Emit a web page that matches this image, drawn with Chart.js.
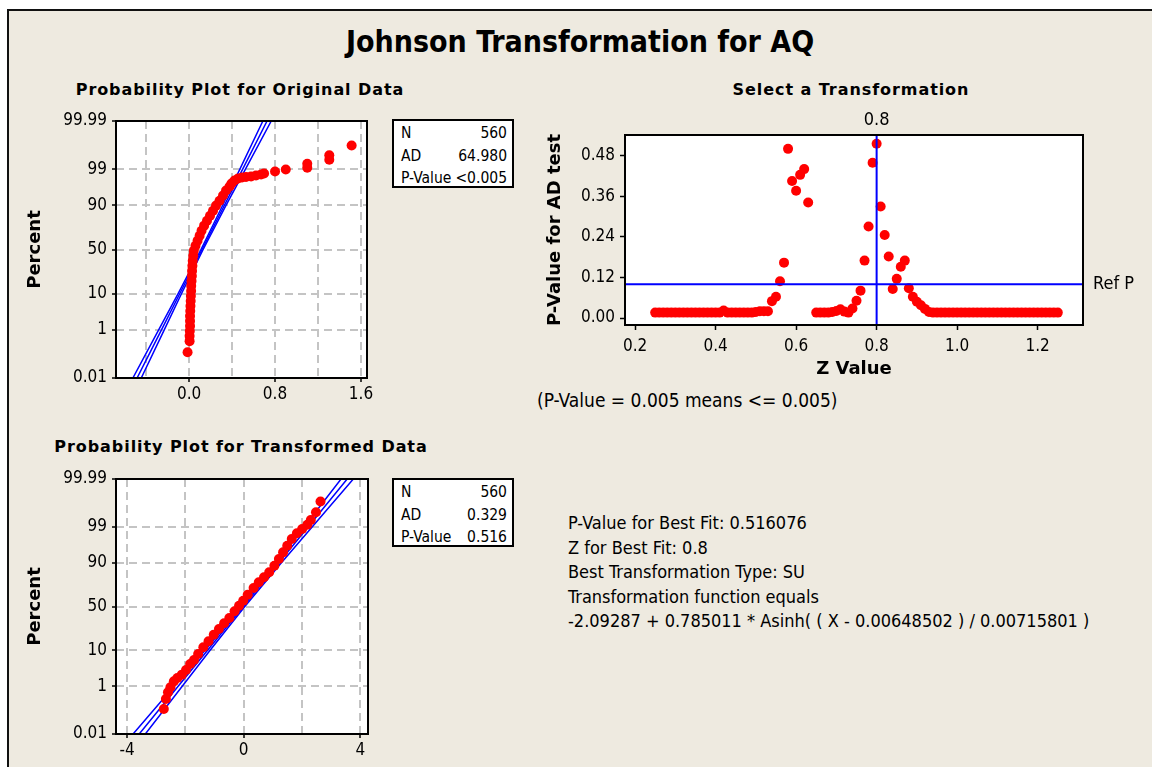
<!DOCTYPE html>
<html lang="en">
<head>
<meta charset="UTF-8">
<title>Johnson Transformation for AQ</title>
<style>
  html, body { margin: 0; padding: 0; background: #fff; }
  body { width: 1152px; height: 767px; position: relative; overflow: hidden; font-family: "DejaVu Sans", sans-serif; }
  #panel { position: absolute; left: 7px; top: 9px; width: 1160px; height: 770px; background: #EEEAE0;
           border-left: 2px solid #111; border-top: 2px solid #111; }
  .txt { position: absolute; white-space: nowrap; color: #000; }
  .title { left: 80px; top: 24px; width: 1000px; text-align: center; line-height: 40px;
           font: bold 30px "DejaVu Sans Condensed", "DejaVu Sans", sans-serif; }
  .sub { width: 440px; text-align: center; line-height: 20px; font: bold 16px "DejaVu Sans", sans-serif; letter-spacing: 0.93px; }
  .plain { font: 19px "DejaVu Sans Condensed", "DejaVu Sans", sans-serif; line-height: 22px; }
  .block { left: 568px; top: 511px; font: 18px "DejaVu Sans Condensed", "DejaVu Sans", sans-serif; line-height: 24.5px; }
  canvas { position: absolute; }
  .stats { position: absolute; left: 392px; width: 122px; height: 69px; box-sizing: border-box;
           border: 2px solid #000; background: #fff; padding: 1px 5px 0 7px;
           font: 15.5px "DejaVu Sans Condensed", "DejaVu Sans", sans-serif; line-height: 22.5px; }
  .stats div { display: flex; justify-content: space-between; }
</style>
</head>
<body>
<div id="panel"></div>

<div class="txt title">Johnson Transformation for AQ</div>
<div class="txt sub" style="left:20px; top:80px;">Probability Plot for Original Data</div>
<div class="txt sub" style="left:631px; top:80px;">Select a Transformation</div>
<div class="txt sub" style="left:21px; top:437px;">Probability Plot for Transformed Data</div>

<canvas id="origChart" width="360" height="312" style="left:20px; top:100px;"></canvas>
<canvas id="selectChart" width="610" height="280" style="left:540px; top:105px;"></canvas>
<canvas id="transChart" width="360" height="309" style="left:20px; top:458px;"></canvas>

<div class="stats" style="top:119px;">
  <div><span>N</span><span>560</span></div>
  <div><span>AD</span><span>64.980</span></div>
  <div><span>P-Value</span><span>&lt;0.005</span></div>
</div>
<div class="stats" style="top:478px;">
  <div><span>N</span><span>560</span></div>
  <div><span>AD</span><span>0.329</span></div>
  <div><span>P-Value</span><span>0.516</span></div>
</div>

<div class="txt plain" style="left:537px; top:389px;">(P-Value = 0.005 means &lt;= 0.005)</div>
<div class="txt block">
  P-Value for Best Fit: 0.516076<br>
  Z for Best Fit: 0.8<br>
  Best Transformation Type: SU<br>
  Transformation function equals<br>
  -2.09287 + 0.785011 * Asinh( ( X - 0.00648502 ) / 0.00715801 )
</div>

<script src="https://cdn.jsdelivr.net/npm/chart.js"></script>
<script>
// probability plot, original data (x value, plotted percent)
const origX = [-0.014, 0.005, 0.005, 0.007, 0.009, 0.009, 0.009, 0.011, 0.013, 0.015,
               0.017, 0.019, 0.020, 0.023, 0.026, 0.028, 0.031, 0.034, 0.039, 0.044,
               0.060, 0.079, 0.098, 0.116, 0.140, 0.167, 0.195, 0.223, 0.251, 0.284,
               0.316, 0.344, 0.377, 0.395, 0.423, 0.456, 0.493, 0.530, 0.577, 0.623,
               0.670, 0.698, 0.80, 0.90, 1.10, 1.10, 1.305, 1.305, 1.513];
const origPct = [0.148, 0.40, 0.61, 0.91, 1.33, 1.91, 2.70, 3.75, 5.09, 6.80,
                 8.92, 11.5, 14.6, 18.1, 22.2, 26.8, 31.8, 37.1, 42.7, 48.5,
                 54.3, 60.0, 65.5, 70.6, 75.5, 79.8, 83.6, 86.9, 89.8, 92.1,
                 94.1, 95.6, 96.6, 97.2, 97.7, 98.0, 98.14, 98.20, 98.27, 98.39,
                 98.50, 98.61, 98.80, 98.97, 99.10, 99.35, 99.53, 99.68, 99.87];

// fitted line and confidence band, read at these percents
const fitPct = [0.01, 1, 10, 50, 90, 99, 99.99];
const origFitX   = [-0.484, -0.257, -0.087, 0.121, 0.329, 0.499, 0.726];
const origLowerX = [-0.523, -0.283, -0.103, 0.111, 0.313, 0.473, 0.687];
const origUpperX = [-0.445, -0.231, -0.071, 0.131, 0.345, 0.525, 0.765];

const probTickPct = [0.01, 1, 10, 50, 90, 99, 99.99];
const probTickLabels = ['0.01', '1', '10', '50', '90', '99', '99.99'];
const origXTicks = [-0.4, 0, 0.4, 0.8, 1.2, 1.6];
const origXLabels = ['', '0.0', '', '0.8', '', '1.6'];

// select a transformation: AD p-value for each Z
const zValues = [0.25, 0.26, 0.27, 0.28, 0.29, 0.30, 0.31, 0.32, 0.33, 0.34,
                 0.35, 0.36, 0.37, 0.38, 0.39, 0.40, 0.41, 0.42, 0.43, 0.44,
                 0.45, 0.46, 0.47, 0.48, 0.49, 0.50, 0.51, 0.52, 0.53, 0.54,
                 0.55, 0.56, 0.57, 0.58, 0.59, 0.60, 0.61, 0.62, 0.63, 0.64,
                 0.65, 0.66, 0.67, 0.68, 0.69, 0.70, 0.71, 0.72, 0.73, 0.74,
                 0.75, 0.76, 0.77, 0.78, 0.79, 0.80, 0.81, 0.82, 0.83, 0.84,
                 0.85, 0.86, 0.87, 0.88, 0.89, 0.90, 0.91, 0.92, 0.93, 0.94,
                 0.95, 0.96, 0.97, 0.98, 0.99, 1.00, 1.01, 1.02, 1.03, 1.04,
                 1.05, 1.06, 1.07, 1.08, 1.09, 1.10, 1.11, 1.12, 1.13, 1.14,
                 1.15, 1.16, 1.17, 1.18, 1.19, 1.20, 1.21, 1.22, 1.23, 1.24,
                 1.25];
const adPValues = [0.016, 0.016, 0.016, 0.016, 0.016, 0.016, 0.016, 0.016, 0.016, 0.016,
                   0.016, 0.016, 0.016, 0.016, 0.016, 0.016, 0.016, 0.022, 0.016, 0.016,
                   0.016, 0.016, 0.016, 0.016, 0.016, 0.018, 0.020, 0.020, 0.020, 0.050,
                   0.063, 0.109, 0.164, 0.501, 0.406, 0.377, 0.424, 0.441, 0.342, null,
                   0.016, 0.016, 0.016, 0.016, 0.018, 0.021, 0.026, 0.019, 0.016, 0.028,
                   0.051, 0.081, 0.170, 0.271, 0.460, 0.516, 0.330, 0.246, 0.182, 0.086,
                   0.116, 0.152, 0.170, 0.088, 0.063, 0.048, 0.038, 0.027, 0.018, 0.016,
                   0.016, 0.016, 0.016, 0.016, 0.016, 0.016, 0.016, 0.016, 0.016, 0.016,
                   0.016, 0.016, 0.016, 0.016, 0.016, 0.016, 0.016, 0.016, 0.016, 0.016,
                   0.016, 0.016, 0.016, 0.016, 0.016, 0.016, 0.016, 0.016, 0.016, 0.016,
                   0.016];
const bestZ = 0.8;
const refP = 0.1;
const selYTicks = [0, 0.12, 0.24, 0.36, 0.48];
const selYLabels = ['0.00', '0.12', '0.24', '0.36', '0.48'];
const selXTicks = [0.2, 0.4, 0.6, 0.8, 1.0, 1.2];
const selXLabels = ['0.2', '0.4', '0.6', '0.8', '1.0', '1.2'];

// probability plot, transformed data
const transX = [-2.740, -2.668, -2.597, -2.514, -2.395, -2.276, -2.121, -1.979, -1.836, -1.705,
                -1.562, -1.384, -1.206, -1.027, -0.849, -0.671, -0.492, -0.314, -0.159, -0.017,
                0.138, 0.340, 0.518, 0.697, 0.875, 1.053, 1.208, 1.351, 1.493, 1.648,
                1.826, 2.005, 2.183, 2.302, 2.480, 2.635];
const transPct = [0.139, 0.349, 0.614, 0.919, 1.45, 1.85, 2.34, 3.20, 4.68, 5.93,
                  8.29, 11.68, 15.48, 20.56, 25.59, 31.17, 36.87, 44.39, 50.97, 56.76,
                  63.50, 70.53, 75.97, 80.26, 84.06, 88.32, 91.71, 94.29, 96.20, 97.55,
                  98.36, 98.81, 99.15, 99.42, 99.70, 99.89];
const transFitX   = [-3.584, -2.248, -1.246, -0.017, 1.212, 2.214, 3.550];
const transLowerX = [-3.794, -2.388, -1.334, -0.073, 1.125, 2.074, 3.340];
const transUpperX = [-3.374, -2.108, -1.159, 0.039, 1.300, 2.354, 3.760];
const transXTicks = [-4, -2, 0, 2, 4];
const transXLabels = ['-4', '', '0', '', '4'];

// inverse normal cdf (Acklam), used for the normal probability axis
function probit(p) {
    const a = [-3.969683028665376e+01, 2.209460984245205e+02, -2.759285104469687e+02, 1.383577518672690e+02, -3.066479806614716e+01, 2.506628277459239e+00];
    const b = [-5.447609879822406e+01, 1.615858368580409e+02, -1.556989798598866e+02, 6.680131188771972e+01, -1.328068155288572e+01];
    const c = [-7.784894002430293e-03, -3.223964580411365e-01, -2.400758296709151e+00, -2.549671180796286e+00, 4.374664141464968e+00, 2.938163982698783e+00];
    const d = [7.784695709041462e-03, 3.224671290700398e-01, 2.445134137142996e+00, 3.754408661907416e+00];
    const lo = 0.02425;
    let q, r;
    if (p < lo) {
        q = Math.sqrt(-2 * Math.log(p));
        return (((((c[0]*q+c[1])*q+c[2])*q+c[3])*q+c[4])*q+c[5]) / ((((d[0]*q+d[1])*q+d[2])*q+d[3])*q+1);
    }
    if (p > 1 - lo) {
        q = Math.sqrt(-2 * Math.log(1 - p));
        return -(((((c[0]*q+c[1])*q+c[2])*q+c[3])*q+c[4])*q+c[5]) / ((((d[0]*q+d[1])*q+d[2])*q+d[3])*q+1);
    }
    q = p - 0.5; r = q * q;
    return (((((a[0]*r+a[1])*r+a[2])*r+a[3])*r+a[4])*r+a[5])*q / (((((b[0]*r+b[1])*r+b[2])*r+b[3])*r+b[4])*r+1);
}

const tickFont = { family: '"DejaVu Sans Condensed", "DejaVu Sans", sans-serif', size: 17 };
const axisTitleFont = { family: '"DejaVu Sans", sans-serif', size: 18, weight: 'bold' };
const RED = '#FF0000';
const BLUE = '#0000FF';

// white plot area with a black box round it
const plotBox = {
    id: 'plotBox',
    beforeDraw(chart) {
        const { ctx, chartArea: a } = chart;
        ctx.save();
        ctx.fillStyle = '#fff';
        ctx.fillRect(a.left, a.top, a.width, a.height);
        ctx.restore();
    },
    afterDraw(chart) {
        const { ctx, chartArea: a } = chart;
        ctx.save();
        ctx.strokeStyle = '#000';
        ctx.lineWidth = 2;
        ctx.strokeRect(a.left, a.top, a.width, a.height);
        ctx.restore();
    }
};

function pts(xs, pcts) {
    return xs.map((x, i) => ({ x: x, y: probit(pcts[i] / 100) }));
}

function lineSet(xs) {
    return { data: pts(xs, fitPct), showLine: true, pointRadius: 0, borderColor: BLUE,
             borderWidth: 1.5, fill: false, tension: 0 };
}

function probChart(id, dots, fitX, lowX, upX, xMin, xMax, xTicks, xLabels, pad, yWidth, xHeight) {
    const yMin = probit(0.0001), yMax = probit(0.9999);
    return new Chart(document.getElementById(id), {
        type: 'scatter',
        data: {
            datasets: [
                { data: dots, pointRadius: 5, pointBackgroundColor: RED, pointBorderWidth: 0 },
                lineSet(fitX), lineSet(lowX), lineSet(upX)
            ]
        },
        options: {
            responsive: false,
            animation: false,
            layout: { padding: pad },
            plugins: { legend: { display: false }, tooltip: { enabled: false } },
            scales: {
                x: {
                    type: 'linear', min: xMin, max: xMax,
                    afterBuildTicks: s => { s.ticks = xTicks.map(v => ({ value: v })); },
                    afterFit: s => { s.height = xHeight; },
                    ticks: { autoSkip: false, maxRotation: 0, padding: 2, color: '#000', font: tickFont,
                             callback: (v, i) => xLabels[i] },
                    grid: { color: '#C4C4C4', lineWidth: 2, tickLength: 4, tickWidth: 1.5,
                            tickColor: c => xLabels[c.index] ? '#000' : 'rgba(0,0,0,0)' },
                    border: { display: false, dash: [8, 5] }
                },
                y: {
                    type: 'linear', min: yMin, max: yMax,
                    afterBuildTicks: s => { s.ticks = probTickPct.map(p => ({ value: probit(p / 100) })); },
                    afterFit: s => { s.width = yWidth; },
                    ticks: { autoSkip: false, padding: 5, color: '#000', font: tickFont,
                             callback: (v, i) => probTickLabels[i] },
                    grid: { color: '#C4C4C4', lineWidth: 2, tickLength: 4, tickWidth: 1.5, tickColor: '#000' },
                    border: { display: false, dash: [8, 5] },
                    title: { display: true, text: 'Percent', color: '#000', font: axisTitleFont,
                             padding: { top: 5, bottom: 0 } }
                }
            }
        },
        plugins: [plotBox]
    });
}

probChart('origChart', pts(origX, origPct), origFitX, origLowerX, origUpperX,
          -0.68, 1.656, origXTicks, origXLabels,
          { top: 21, right: 13, left: 0, bottom: 0 }, 96, 34);

probChart('transChart', pts(transX, transPct), transFitX, transLowerX, transUpperX,
          -4.38, 4.264, transXTicks, transXLabels,
          { top: 21, right: 12, left: 0, bottom: 0 }, 96, 33);

// reference lines for the best Z and the reference p-value
const refLines = {
    id: 'refLines',
    afterDatasetsDraw(chart) {
        const { ctx, chartArea: a, scales } = chart;
        const xp = scales.x.getPixelForValue(bestZ);
        const yp = scales.y.getPixelForValue(refP);
        ctx.save();
        ctx.strokeStyle = BLUE;
        ctx.lineWidth = 2;
        ctx.beginPath();
        ctx.moveTo(xp, a.top); ctx.lineTo(xp, a.bottom);
        ctx.moveTo(a.left, yp); ctx.lineTo(a.right, yp);
        ctx.stroke();
        ctx.fillStyle = '#000';
        ctx.font = '18px "DejaVu Sans Condensed", "DejaVu Sans", sans-serif';
        ctx.textAlign = 'center';
        ctx.textBaseline = 'middle';
        ctx.fillText(String(bestZ), xp, a.top - 15);
        ctx.textAlign = 'left';
        ctx.fillText('Ref P', a.right + 10, yp);
        ctx.restore();
    }
};

new Chart(document.getElementById('selectChart'), {
    type: 'scatter',
    data: {
        datasets: [{
            data: zValues.map((z, i) => ({ x: z, y: adPValues[i] })),
            pointRadius: 5, pointBackgroundColor: RED, pointBorderWidth: 0
        }]
    },
    options: {
        responsive: false,
        animation: false,
        layout: { padding: { top: 30, right: 67, left: 0, bottom: 0 } },
        plugins: { legend: { display: false }, tooltip: { enabled: false } },
        scales: {
            x: {
                type: 'linear', min: 0.175, max: 1.3126,
                afterBuildTicks: s => { s.ticks = selXTicks.map(v => ({ value: v })); },
                afterFit: s => { s.height = 60; },
                ticks: { autoSkip: false, maxRotation: 0, padding: 6, color: '#000', font: tickFont,
                         callback: (v, i) => selXLabels[i] },
                grid: { drawOnChartArea: false, tickLength: 5, tickWidth: 1.5, tickColor: '#000' },
                border: { display: false },
                title: { display: true, text: 'Z Value', color: '#000',
                         font: { family: '"DejaVu Sans", sans-serif', size: 18, weight: 'bold' },
                         padding: { top: 0, bottom: 5 } }
            },
            y: {
                type: 'linear', min: -0.0207, max: 0.542,
                afterBuildTicks: s => { s.ticks = selYTicks.map(v => ({ value: v })); },
                afterFit: s => { s.width = 85; },
                ticks: { autoSkip: false, padding: 5, color: '#000', font: tickFont,
                         callback: (v, i) => selYLabels[i] },
                grid: { drawOnChartArea: false, tickLength: 5, tickWidth: 1.5, tickColor: '#000' },
                border: { display: false },
                title: { display: true, text: 'P-Value for AD test', color: '#000', font: axisTitleFont,
                         padding: { top: 5, bottom: 0 } }
            }
        }
    },
    plugins: [plotBox, refLines]
});
</script>
</body>
</html>
